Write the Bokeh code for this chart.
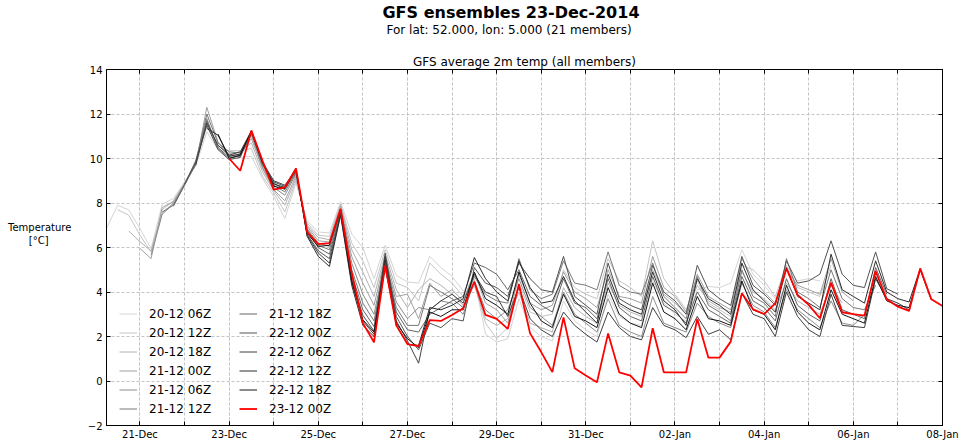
import pandas as pd
from bokeh.plotting import figure
from bokeh.layouts import column, row
from bokeh.models import (Range1d, FixedTicker, DatetimeTickFormatter, DatetimeAxis,
                          LinearAxis, Legend, LegendItem, ColumnDataSource)
from bokeh.core.properties import value
from bokeh.embed import file_html
from bokeh.resources import INLINE

# ---------------- data ----------------
run_labels = ["20-12 06Z", "20-12 12Z", "20-12 18Z", "21-12 00Z", "21-12 06Z", "21-12 12Z",
              "21-12 18Z", "22-12 00Z", "22-12 06Z", "22-12 12Z", "22-12 18Z", "23-12 00Z"]
run_inits = ["2014-12-20 06:00", "2014-12-20 12:00", "2014-12-20 18:00", "2014-12-21 00:00",
             "2014-12-21 06:00", "2014-12-21 12:00", "2014-12-21 18:00", "2014-12-22 00:00",
             "2014-12-22 06:00", "2014-12-22 12:00", "2014-12-22 18:00", "2014-12-23 00:00"]
run_colors = ["#d4d4d4", "#c4c4c4", "#b2b2b2", "#a0a0a0", "#8c8c8c", "#787878",
              "#646464", "#525252", "#404040", "#2c2c2c", "#141414", "#ff0000"]

# 6-hourly 2m temperature (degC), one list per run, starting at the run's init time
t_20_06 = [6.86, 7.90, 7.69, 6.85, 5.95, 7.95, 8.20, 8.95, 9.65, 11.20,
           10.40, 10.25, 10.05, 10.10, 9.10, 8.30, 7.30, 8.90, 7.20, 6.70,
           6.65, 8.05, 6.60, 6.00, 4.60, 6.10, 4.75, 4.45, 4.40, 5.60,
           5.10, 4.70, 4.05, 4.60, 2.10, 1.75, 1.90, 3.70, 2.40, 2.00,
           1.80, 3.60, 2.70, 2.30, 2.00, 3.90, 2.90, 2.60, 2.50, 4.50,
           3.50, 3.00, 2.70, 4.10, 4.25, 4.20, 4.40, 5.90, 4.80, 4.30,
           3.70, 4.80, 4.50, 4.60, 4.50]
t_20_12 = [7.70, 7.45, 6.55, 5.80, 7.70, 8.10, 8.90, 9.75, 11.45, 10.55,
           10.35, 10.35, 10.45, 9.20, 8.45, 7.60, 9.00, 7.10, 6.55, 6.50,
           7.95, 6.20, 5.40, 4.20, 5.90, 4.40, 4.20, 3.60, 5.30, 4.80,
           4.40, 3.80, 4.40, 2.60, 1.90, 2.40, 4.40, 3.10, 2.90, 3.00,
           5.00, 4.20, 3.90, 3.70, 5.50, 4.50, 4.20, 3.80, 6.30, 4.60,
           3.90, 3.20, 4.50, 3.50, 3.20, 2.90, 5.20, 5.00, 4.50, 3.80,
           5.20, 4.20, 4.00, 3.80, 5.20]
t_20_18 = [6.74, 6.26, 5.85, 7.55, 8.00, 8.85, 9.85, 11.60, 10.60, 10.20,
           10.30, 10.70, 9.40, 8.55, 7.90, 9.10, 7.00, 6.45, 6.35, 7.90,
           5.90, 4.90, 3.80, 5.70, 4.10, 3.30, 4.10, 4.60, 4.30, 3.90,
           3.40, 4.30, 2.80, 2.50, 2.80, 4.00, 2.60, 2.40, 2.20, 4.20,
           3.30, 2.90, 2.60, 4.40, 3.40, 3.10, 2.90, 5.00, 3.90, 3.50,
           3.00, 4.30, 3.60, 3.30, 3.10, 4.90, 4.00, 3.70, 3.20, 4.40,
           3.60, 3.30, 3.00, 4.30, 3.50]
t_21_00 = [5.96, 5.50, 7.80, 8.05, 8.85, 9.70, 12.30, 10.75, 10.10, 10.20,
           10.90, 9.55, 8.60, 8.10, 9.20, 6.95, 6.30, 6.25, 7.80, 5.60,
           4.40, 3.40, 5.55, 3.80, 3.90, 2.80, 4.40, 3.80, 4.10, 3.60,
           4.90, 3.50, 3.20, 2.60, 4.80, 3.50, 3.20, 3.40, 4.90, 4.00,
           3.70, 3.30, 5.00, 3.80, 3.70, 3.50, 5.60, 4.20, 3.80, 3.10,
           4.80, 3.80, 3.50, 3.20, 5.50, 4.60, 4.00, 3.50, 5.00, 4.30,
           4.10, 3.90, 5.50, 4.00, 3.60]
t_21_06 = [5.65, 7.50, 7.95, 8.80, 9.90, 11.80, 10.45, 10.00, 10.15, 11.05,
           9.60, 8.70, 8.35, 9.30, 6.85, 6.20, 6.05, 7.75, 5.30, 3.90,
           3.00, 5.40, 3.55, 2.80, 3.30, 3.20, 3.60, 3.50, 3.00, 4.50,
           3.20, 2.80, 3.20, 4.60, 3.30, 2.90, 2.50, 4.00, 3.00, 2.60,
           2.20, 3.70, 2.50, 2.20, 2.00, 3.80, 2.60, 2.40, 2.20, 3.50,
           2.90, 2.60, 2.40, 4.40, 3.40, 3.10, 2.40, 4.10, 3.20, 2.80,
           2.40, 3.60, 2.60, 2.50, 3.00]
t_21_12 = [7.60, 7.90, 8.85, 9.80, 12.00, 10.70, 10.30, 10.25, 11.15, 9.70,
           8.80, 8.50, 9.35, 6.80, 6.10, 5.90, 7.65, 5.00, 3.50, 2.70,
           5.30, 3.30, 2.50, 2.50, 4.30, 4.00, 3.70, 3.30, 4.70, 3.90,
           3.60, 3.50, 5.50, 4.10, 3.70, 3.90, 5.40, 4.40, 4.30, 4.10,
           5.80, 4.30, 4.00, 3.90, 5.30, 3.80, 3.30, 2.80, 4.70, 3.40,
           3.10, 2.70, 5.00, 3.80, 3.50, 2.90, 5.50, 4.00, 3.70, 3.30,
           5.00, 3.70, 3.30, 3.20, 4.30]
t_21_18 = [7.85, 8.80, 9.75, 11.70, 10.50, 10.05, 10.10, 11.20, 9.75, 8.90,
           8.60, 9.40, 6.70, 6.00, 5.70, 7.60, 4.80, 3.20, 2.45, 5.20,
           3.10, 2.30, 2.20, 3.00, 3.30, 3.60, 3.80, 5.30, 5.10, 4.80,
           4.10, 5.00, 3.80, 3.40, 3.10, 4.60, 3.50, 3.30, 2.80, 4.60,
           3.30, 2.90, 2.70, 4.70, 3.40, 3.10, 2.60, 4.00, 3.20, 2.90,
           2.60, 4.70, 3.60, 3.30, 2.70, 4.60, 3.40, 3.00, 2.70, 4.60,
           3.20, 3.00, 2.80, 5.10, 3.90]
t_22_00 = [8.85, 9.85, 11.50, 10.40, 9.95, 10.05, 11.20, 9.80, 8.95, 8.75,
           9.45, 6.60, 5.85, 5.50, 7.55, 4.60, 2.95, 2.25, 5.75, 2.90,
           2.00, 1.40, 2.60, 2.40, 2.80, 2.70, 5.10, 4.40, 4.20, 3.80,
           5.30, 4.60, 4.10, 4.00, 5.60, 3.80, 3.40, 3.00, 5.30, 3.70,
           3.40, 3.20, 5.20, 4.00, 3.60, 3.00, 5.20, 4.10, 3.70, 3.40,
           5.60, 4.30, 3.90, 3.40, 5.40, 4.40, 4.50, 4.80, 6.30, 4.80,
           4.30, 4.20, 5.80, 4.15, 3.90]
t_22_06 = [9.70, 11.60, 10.60, 10.15, 10.30, 11.25, 9.85, 9.00, 8.80, 9.50,
           6.55, 5.75, 5.30, 7.50, 4.45, 2.70, 2.10, 5.60, 2.70, 1.80,
           0.80, 3.20, 3.60, 3.90, 3.50, 4.80, 4.00, 3.80, 2.90, 4.20,
           2.80, 2.30, 2.00, 3.10, 2.50, 2.10, 1.75, 3.10, 2.40, 2.00,
           1.85, 3.30, 2.50, 2.30, 1.95, 2.90, 2.10, 2.30, 1.85, 3.95,
           3.00, 2.80, 2.00, 4.00, 2.90, 2.30, 2.00, 3.90, 2.50, 2.45,
           2.40, 4.60, 3.70, 3.50, 3.20]
t_22_12 = [11.35, 11.05, 10.10, 10.20, 11.20, 9.80, 8.85, 8.70, 9.55, 6.50,
           5.60, 5.15, 7.45, 4.30, 2.50, 2.00, 5.45, 2.50, 1.65, 1.60,
           3.30, 3.20, 3.40, 3.70, 5.55, 4.60, 4.00, 3.60, 5.40, 4.20,
           3.50, 3.60, 4.70, 3.60, 3.10, 2.60, 4.80, 3.50, 3.20, 3.00,
           4.90, 3.60, 3.20, 2.50, 4.60, 3.70, 3.40, 3.00, 5.30, 4.10,
           3.60, 3.10, 5.10, 3.80, 3.50, 3.20, 5.70, 4.10, 3.80, 3.50,
           5.40, 4.00, 3.70, 3.55, 5.05]
t_22_18 = [11.10, 10.00, 10.15, 11.25, 9.85, 8.75, 8.65, 9.50, 6.65, 6.05,
           6.10, 7.70, 4.50, 2.75, 2.20, 5.10, 2.60, 1.90, 1.50, 3.10,
           2.90, 3.20, 3.20, 4.90, 3.70, 3.40, 3.00, 4.90, 3.50, 2.70,
           2.40, 3.90, 2.90, 2.70, 2.40, 4.20, 3.00, 2.60, 2.40, 4.40,
           3.10, 2.80, 2.30, 3.80, 2.80, 2.70, 2.50, 4.50, 3.20, 3.00,
           2.30, 4.30, 3.10, 2.60, 2.30, 4.10, 3.00, 2.80, 2.60, 4.70,
           3.60, 3.40, 3.30, 5.00, 3.65]
t_23_00 = [10.00, 9.45, 11.25, 9.90, 8.60, 8.70, 9.55, 6.70, 6.15, 6.20,
           7.73, 4.84, 2.60, 1.74, 5.20, 2.50, 1.66, 1.57, 2.74, 2.70,
           2.97, 3.27, 4.46, 2.97, 2.79, 2.34, 4.35, 2.14, 1.30, 0.40,
           2.86, 0.57, 0.25, -0.06, 2.14, 0.39, 0.24, -0.29, 2.37, 0.39,
           0.39, 0.39, 2.79, 1.05, 1.05, 1.77, 3.94, 3.22, 3.01, 3.49,
           5.06, 3.87, 3.42, 2.82, 4.42, 3.09, 3.01, 2.94, 4.94, 3.67,
           3.34, 3.15, 5.06, 3.67, 3.37]

series = [t_20_06, t_20_12, t_20_18, t_21_00, t_21_06, t_21_12,
          t_21_18, t_22_00, t_22_06, t_22_12, t_22_18, t_23_00]

y_ticks = [-2, 0, 2, 4, 6, 8, 10, 12, 14]
x_start = pd.Timestamp("2014-12-20 06:00")
x_end = pd.Timestamp("2015-01-08 00:00")

title_main = "GFS ensembles 23-Dec-2014"
title_sub = "For lat: 52.000, lon: 5.000  (21 members)"
title_axes = "GFS average 2m temp (all members)"
ylabel_lines = ["Temperature", "[°C]"]


def to_ms(ts):
    return ts.value / 1e6


major_ms = [to_ms(t) for t in pd.date_range("2014-12-21", "2015-01-08", freq="2D")]
minor_ms = [to_ms(t) for t in pd.date_range("2014-12-21", "2015-01-08", freq="D")]

FONT = "DejaVu Sans"
TOP_H = 48      # height of the strip holding the two figure titles
LEFT_W = 76     # width of y-label strip
W, H = 964, 447

# ---------------- title strip ----------------
tf = figure(width=W, height=TOP_H, x_range=Range1d(0, W), y_range=Range1d(TOP_H, 0),
            output_backend="svg", toolbar_location=None, min_border=0,
            x_axis_location=None, y_axis_location=None, outline_line_color=None)
tf.grid.grid_line_color = None
tf.text(x=[510.5], y=[12], text=[title_main], text_align="center", text_baseline="alphabetic",
        text_font=value(FONT), text_font_size=value("16px"), text_font_style="bold",
        text_color="black")
tf.text(x=[510.5], y=[29], text=[title_sub], text_align="center", text_baseline="alphabetic",
        text_font=value(FONT), text_font_size=value("12px"), text_color="black")

# ---------------- y-label strip ----------------
lf = figure(width=LEFT_W, height=H - TOP_H, x_range=Range1d(0, LEFT_W),
            y_range=Range1d(H - TOP_H, 0), output_backend="svg", toolbar_location=None,
            min_border=0, x_axis_location=None, y_axis_location=None, outline_line_color=None)
lf.grid.grid_line_color = None
lf.text(x=[39.2, 38.2], y=[225 - TOP_H, 239.3 - TOP_H], text=ylabel_lines, text_align="center",
        text_baseline="alphabetic", text_font=value(FONT), text_font_size=value("10px"),
        text_color="black")

# ---------------- main plot ----------------
p = figure(width=W - LEFT_W, height=H - TOP_H, x_axis_type="datetime", output_backend="svg",
           toolbar_location=None, title=title_axes,
           x_range=Range1d(start=x_start, end=x_end), y_range=Range1d(start=-2, end=14),
           min_border_left=30, min_border_right=22, min_border_top=69 - TOP_H,
           min_border_bottom=22)
p.title.align = "center"
p.title.text_font = FONT
p.title.text_font_size = "12px"
p.title.text_font_style = "normal"
p.title.text_color = "black"
p.title.standoff = 2
p.title.vertical_align = "bottom"
p.background_fill_color = "white"
p.border_fill_color = "white"
p.outline_line_color = "black"
p.outline_line_width = 1

xt = FixedTicker(ticks=major_ms, minor_ticks=minor_ms)
yt = FixedTicker(ticks=y_ticks)
fmt = DatetimeTickFormatter(days="%d-%b", months="%d-%b", years="%d-%b", hours="%d-%b",
                            hourmin="%d-%b", strip_leading_zeros=False, boundary_scaling=False)

xa = p.xaxis[0]
xa.ticker = xt
xa.formatter = fmt
xa.major_label_text_font = FONT
xa.major_label_text_font_size = "10px"
xa.major_label_text_color = "black"
xa.major_label_standoff = 3
xa.major_tick_in = 4
xa.major_tick_out = 0
xa.minor_tick_in = 4
xa.minor_tick_out = 0
xa.axis_line_color = "black"

ya = p.yaxis[0]
ya.ticker = yt
ya.major_label_text_font = FONT
ya.major_label_text_font_size = "10px"
ya.major_label_text_color = "black"
ya.major_label_standoff = 4
ya.major_tick_in = 4
ya.major_tick_out = 0
ya.minor_tick_line_color = None
ya.axis_line_color = "black"

# tick marks along the top edge (drawn at the frame edge, takes no border space)
top_ax = DatetimeAxis(ticker=xt, formatter=fmt, major_label_text_color=None,
                      major_tick_in=4, major_tick_out=0, minor_tick_in=4, minor_tick_out=0,
                      axis_line_color="black", major_label_standoff=0, fixed_location=14)
p.add_layout(top_ax, "above")
right_ax = LinearAxis(ticker=yt, major_label_text_color=None,
                      major_tick_in=4, major_tick_out=0, minor_tick_line_color=None,
                      axis_line_color="black", major_label_standoff=0)
p.add_layout(right_ax, "right")

for g in (p.xgrid[0], p.ygrid[0]):
    g.grid_line_color = "#c4c4c4"
    g.grid_line_dash = "3 2"
    g.grid_line_width = 1
p.xgrid[0].ticker = xt
p.xgrid[0].minor_grid_line_color = "#c4c4c4"
p.xgrid[0].minor_grid_line_dash = "3 2"
p.ygrid[0].ticker = yt

items = []
for lab, init, col, vals in zip(run_labels, run_inits, run_colors, series):
    xs = pd.date_range(start=init, periods=len(vals), freq="6h")
    src = ColumnDataSource(data=dict(x=xs, y=vals))
    lw = 1.8 if col == "#ff0000" else 1.0
    r = p.line("x", "y", source=src, line_color=col, line_width=lw)
    items.append(LegendItem(label=lab, renderers=[r]))

legend = Legend(items=items, location=(13, 7), ncols=2, orientation="vertical",
                border_line_color=None, background_fill_alpha=0, padding=0, margin=0,
                spacing=0, glyph_width=18, glyph_height=19, label_height=19, label_width=90,
                label_standoff=12, label_text_font=FONT, label_text_font_size="12px",
                label_text_color="black")
p.add_layout(legend)

layout = column(tf, row(lf, p, spacing=0), spacing=0)
open("out.html", "w").write(file_html(layout, INLINE))
